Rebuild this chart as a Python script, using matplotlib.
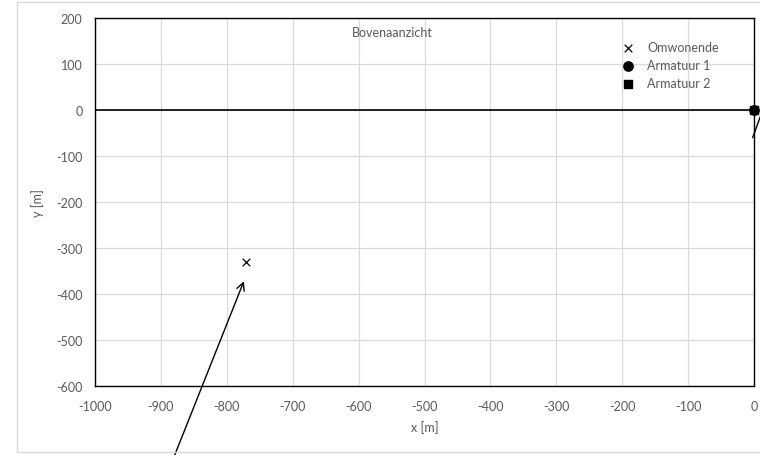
import matplotlib.pyplot as plt
from matplotlib.patches import Rectangle

# data
omwonende_x = [-771]
omwonende_y = [-330]
armatuur1_x = [0]
armatuur1_y = [0]
armatuur2_x = [0]
armatuur2_y = [0]
x_ticks = list(range(-1000, 1, 100))
y_ticks = list(range(-600, 201, 100))
# annotatie-pijlen (start -> kop), data coords
arrow1_start = (-879, -750)
arrow1_end = (-774, -372)
arrow2_start = (-2, -60)
arrow2_end = (12, -5)

plt.rcParams['font.family'] = ['Lato', 'DejaVu Sans']
plt.rcParams['axes.unicode_minus'] = False
grey = '#595959'
fs = 9

fig = plt.figure(figsize=(7.6, 4.56), dpi=100)
# chart-rand
fig.patches.append(Rectangle((17 / 760, 3 / 456), 760 / 760, 450 / 456,
                             transform=fig.transFigure, fill=False,
                             edgecolor='#d9d9d9', lw=1))
ax = fig.add_axes([95 / 760, 1 - 387 / 456, 659 / 760, 368 / 456])

ax.set_xlim(-1000, 0)
ax.set_ylim(-600, 200)
ax.set_xticks(x_ticks)
ax.set_yticks(y_ticks)
ax.grid(True, color='#d9d9d9', lw=0.9)
ax.set_axisbelow(True)
ax.tick_params(length=0, labelsize=fs, colors=grey)
ax.tick_params(axis='x', pad=10)
ax.tick_params(axis='y', pad=9)
for s in ax.spines.values():
    s.set_color('black')
    s.set_linewidth(1)

ax.axhline(0, color='black', lw=1.2, zorder=2)

ax.scatter(omwonende_x, omwonende_y, marker='x', s=30, c='black', lw=0.9,
           label='Omwonende', zorder=3)
ax.scatter(armatuur1_x, armatuur1_y, marker='o', s=45, c='black',
           label='Armatuur 1', zorder=3, clip_on=False)
ax.scatter(armatuur2_x, armatuur2_y, marker='s', s=30, c='black',
           label='Armatuur 2', zorder=3, clip_on=False)

ax.annotate('', xy=arrow1_end, xytext=arrow1_start, annotation_clip=False,
            arrowprops=dict(arrowstyle='->', color='black', lw=1,
                            mutation_scale=14, shrinkA=0, shrinkB=0))
ax.annotate('', xy=arrow2_end, xytext=arrow2_start, annotation_clip=False,
            arrowprops=dict(arrowstyle='-', color='black', lw=1,
                            shrinkA=0, shrinkB=0))

ax.text(0.451, 0.962, 'Bovenaanzicht', transform=ax.transAxes,
        ha='center', va='center', fontsize=fs, color=grey)

ax.set_xlabel('x [m]', fontsize=fs, color=grey, labelpad=6)
ax.set_ylabel('y [m]', fontsize=fs, color=grey, labelpad=9)

leg = ax.legend(loc='upper left', bbox_to_anchor=(0.783, 0.950), frameon=False,
                fontsize=fs, labelcolor=grey, handletextpad=0.52,
                labelspacing=0.48, borderaxespad=0)

fig.savefig('out.png', dpi=100)
